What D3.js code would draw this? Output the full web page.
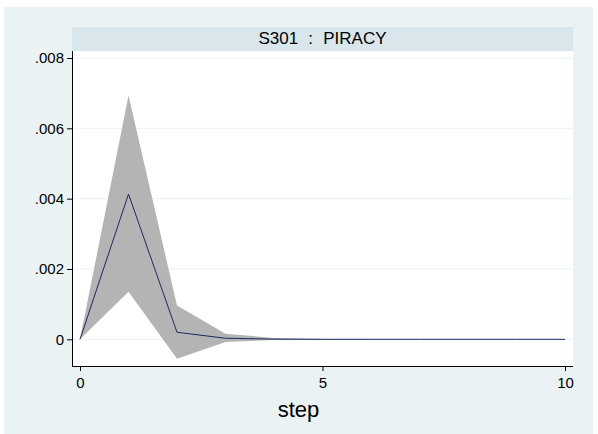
<!DOCTYPE html>
<html>
<head>
<meta charset="utf-8">
<script src="https://cdn.jsdelivr.net/npm/d3@7"></script>
<style>
  html, body { margin: 0; padding: 0; background: #ffffff; }
  svg { display: block; font-family: "Liberation Sans", Arial, sans-serif; }
</style>
</head>
<body>
<svg id="chart" width="598" height="434"></svg>
<script>
// Impulse response: S301 -> PIRACY, with confidence band
const steps = [0, 1, 2, 3, 4, 5, 6, 7, 8, 9, 10];
const irf   = [0, 0.00413, 0.00020, 0.00003, 0.000005, 0, 0, 0, 0, 0, 0];
const upper = [0, 0.00693, 0.00096, 0.00016, 0.00004, 0.000008, 0, 0, 0, 0, 0];
const lower = [0, 0.00135, -0.00055, -0.00008, -0.00002, -0.000004, 0, 0, 0, 0, 0];
const yTicks = [0, 0.002, 0.004, 0.006, 0.008];
const xTicks = [0, 5, 10];
const panelTitle = "S301 : PIRACY";
const xTitle = "step";

const svg = d3.select("#chart");

// outer graph region
const outer = { left: 4, top: 7, right: 593, bottom: 434 };
svg.append("rect").attr("x", outer.left).attr("y", outer.top)
  .attr("width", outer.right - outer.left).attr("height", outer.bottom - outer.top)
  .attr("fill", "#eaf2f3");

const plot = { left: 72, right: 573, top: 51, bottom: 366 };

// title strip
svg.append("rect").attr("x", plot.left).attr("y", 27)
  .attr("width", plot.right - plot.left).attr("height", 24)
  .attr("fill", "#d9e6eb");
svg.append("text").attr("x", (plot.left + plot.right) / 2).attr("y", 44)
  .attr("text-anchor", "middle").attr("font-size", 17).attr("word-spacing", "5.5px")
  .attr("fill", "#000")
  .text(panelTitle);

// plot region
svg.append("rect").attr("x", plot.left).attr("y", plot.top)
  .attr("width", plot.right - plot.left).attr("height", plot.bottom - plot.top)
  .attr("fill", "#ffffff");

const x = d3.scaleLinear().domain([0, 10]).range([80, 565]);
const y = d3.scaleLinear().domain([0, 0.008]).range([339.3, 58]);

// gridlines
svg.append("g").selectAll("line").data(yTicks).join("line")
  .attr("x1", plot.left).attr("x2", plot.right)
  .attr("y1", d => y(d)).attr("y2", d => y(d))
  .attr("stroke", "#eaf2f3").attr("stroke-width", 1);

const rows = steps.map((s, i) => ({ s, m: irf[i], lo: lower[i], hi: upper[i] }));

// confidence band
svg.append("path").datum(rows)
  .attr("d", d3.area().x(d => x(d.s)).y0(d => y(d.lo)).y1(d => y(d.hi)))
  .attr("fill", "#b4b4b4");

// response line
svg.append("path").datum(rows)
  .attr("d", d3.line().x(d => x(d.s)).y(d => y(d.m)))
  .attr("fill", "none").attr("stroke", "#1a2a5c").attr("stroke-width", 1);

// y axis
const fmtY = d => d === 0 ? "0" : d3.format(".3f")(d).replace(/^0/, "");
const yAxis = svg.append("g").attr("transform", `translate(${plot.left},0)`)
  .call(d3.axisLeft(y).tickValues(yTicks).tickFormat(fmtY).tickSize(5).tickPadding(3));
yAxis.select(".domain").attr("d", `M0.5,${plot.top}V${plot.bottom}`).attr("stroke", "#000");
yAxis.selectAll(".tick line").attr("stroke", "#000");
yAxis.selectAll("text").attr("font-size", 15).attr("fill", "#000")
  .attr("font-family", "Liberation Sans, Arial, sans-serif");

// x axis
const xAxis = svg.append("g").attr("transform", `translate(0,${plot.bottom})`)
  .call(d3.axisBottom(x).tickValues(xTicks).tickFormat(d3.format("d")).tickSize(5).tickPadding(6));
xAxis.select(".domain").attr("d", `M${plot.left},0.5H${plot.right}`).attr("stroke", "#000");
xAxis.selectAll(".tick line").attr("stroke", "#000");
xAxis.selectAll("text").attr("font-size", 15).attr("fill", "#000")
  .attr("font-family", "Liberation Sans, Arial, sans-serif");

// x axis title, centred on the whole graph region
svg.append("text").attr("x", (outer.left + outer.right) / 2).attr("y", 416.5)
  .attr("text-anchor", "middle").attr("font-size", 22).attr("fill", "#000")
  .text(xTitle);
</script>
</body>
</html>
